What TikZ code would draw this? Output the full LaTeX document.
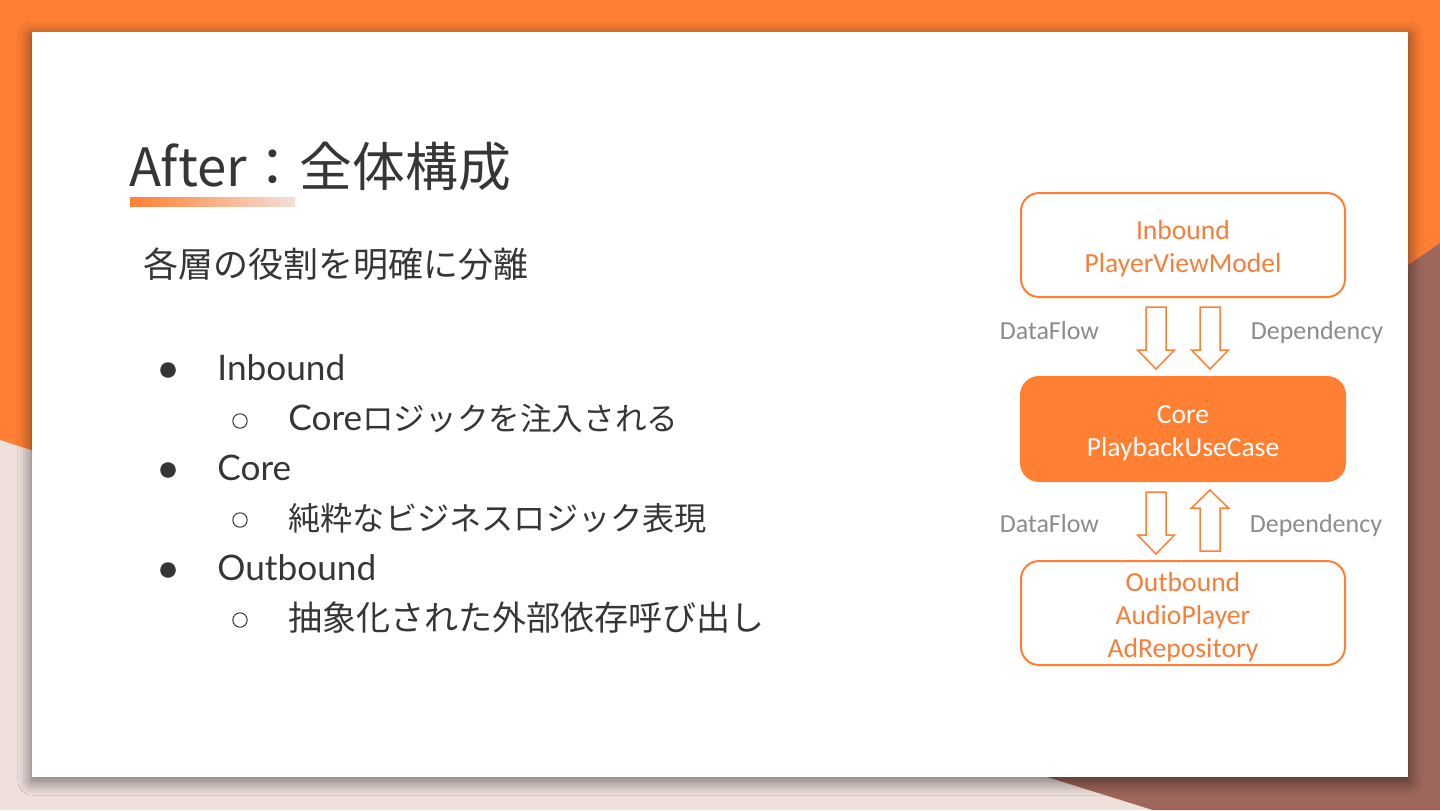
\documentclass[tikz,border=0pt]{standalone}
\usepackage{fontspec}
\setmainfont{Lato}
\newfontfamily\jpfont{Noto Sans CJK JP}
\newfontfamily\calfont{Carlito}
\usetikzlibrary{shadows.blur,calc}
\definecolor{orng}{HTML}{FF7F33}
\definecolor{pinkbg}{HTML}{EFE0DC}
\definecolor{brownbg}{HTML}{9E675B}
\definecolor{txt}{HTML}{363636}
\definecolor{lbl}{HTML}{8C8C8C}
\definecolor{boxtxt}{HTML}{F57F3A}
\definecolor{fadeend}{HTML}{F3E0D8}
\tikzset{
  box/.style={draw=orng, line width=1pt, rounded corners=9pt, minimum width=162pt,
    minimum height=52pt, inner sep=0pt},
  corebox/.style={box, fill=orng},
  boxtext/.style={inner sep=0pt, align=center, text=boxtxt,
    font=\calfont\fontsize{13.8}{16.5}\selectfont},
  coretext/.style={boxtext, text=white},
  lbltext/.style={anchor=base, inner sep=0pt, text=lbl, font=\calfont\fontsize{13}{15}\selectfont},
  arr/.style={draw=orng, fill=white, line width=0.75pt, line join=miter},
  downarr/.pic={\draw[arr] (-10,0) -- (10,0) -- (10,43) -- (18.5,43) -- (0,62) -- (-18.5,43) -- (-10,43) -- cycle;},
  uparr/.pic={\draw[arr] (-10,0) -- (10,0) -- (10,-43) -- (18.5,-43) -- (0,-61) -- (-18.5,-43) -- (-10,-43) -- cycle;},
  bul/.style={circle, fill=txt, inner sep=0pt, minimum size=7.8pt},
  subbul/.style={circle, draw=txt, line width=0.5pt, inner sep=0pt, minimum size=7.2pt},
  item/.style={anchor=base west, inner sep=0pt, text=txt, font=\fontsize{17.6}{21}\selectfont},
}
\newcommand\jptext[2]{{\jpfont\fontsize{#1}{20}\selectfont #2}}
\begin{document}
\begin{tikzpicture}[x=0.5pt,y=-0.5pt]
\useasboundingbox (0,0) rectangle (1440,810);
\clip (0,0) rectangle (1440,810);
% background
\fill[orng] (0,0) rectangle (1440,810);
\fill[pinkbg] (0,440) -- (791,697) -- (1153,810) -- (0,810) -- cycle;
\fill[brownbg] (1440,243) -- (791,697) -- (1153,810) -- (1440,810) -- cycle;
% card
\fill[white, blur shadow={shadow xshift=0pt, shadow yshift=-2pt, shadow blur radius=7pt, shadow opacity=55, shadow blur steps=12}]
  (32,32) rectangle (1408,777);
% title
\node[anchor=base west, inner sep=0pt, text=txt, font=\jpfont\fontsize{26.4}{32}\selectfont] (title) at (129,186) {After：全体構成};
\shade[left color=orng, right color=fadeend] (130,197) rectangle (295,206);
\node[anchor=base west, inner sep=0pt, text=txt, font=\jpfont\fontsize{17.5}{21}\selectfont] (sub) at (143,277) {各層の役割を明確に分離};
% list
\node[bul] (b1) at (168,370) {};
\node[item] (t1) at (217,380) {Inbound};
\node[subbul] (s1) at (240,421) {};
\node[item] (u1) at (288,430) {Core\jptext{15.8}{ロジックを注入される}};
\node[bul] (b2) at (168,470) {};
\node[item] (t2) at (217,480) {Core};
\node[subbul] (s2) at (240,520) {};
\node[item] (u2) at (288,530) {\jptext{16.1}{純粋なビジネスロジック表現}};
\node[bul] (b3) at (168,570) {};
\node[item] (t3) at (217,580) {Outbound};
\node[subbul] (s3) at (240,620) {};
\node[item] (u3) at (288,630) {\jptext{17}{抽象化された外部依存呼び出し}};
% diagram
\node[box] (in) at (1183,245) {};
\node[boxtext] (intext) at ($(in.center)+(0,4)$) {Inbound\\PlayerViewModel};
\node[corebox] (core) at (1183,429) {};
\node[coretext] (coretxt) at ($(core.center)+(0,4)$) {Core\\PlaybackUseCase};
\node[box] (out) at (1183,613) {};
\node[boxtext] (outtext) at ($(out.center)+(0,4)$) {Outbound\\AudioPlayer\\AdRepository};
\pic at ($(in.south)+(-27,9)$) {downarr};
\pic at ($(in.south)+(27,9)$) {downarr};
\pic at ($(core.south)+(-27,10)$) {downarr};
\pic at ($(out.north)+(27,-9)$) {uparr};
\node[lbltext] (l1) at (1049.5,339) {DataFlow};
\node[lbltext] (l2) at (1317,339) {Dependency};
\node[lbltext] (l3) at (1049.5,532) {DataFlow};
\node[lbltext] (l4) at (1316,532) {Dependency};
\end{tikzpicture}
\end{document}
